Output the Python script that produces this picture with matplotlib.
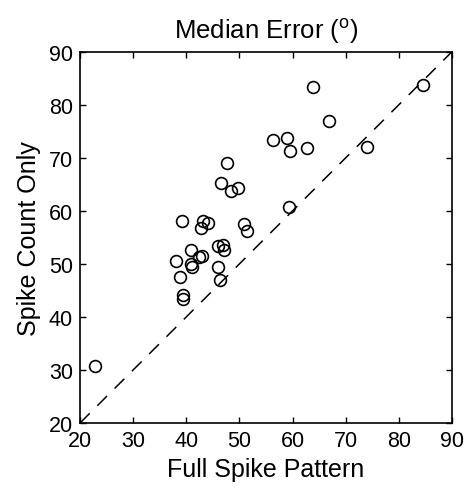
import matplotlib
matplotlib.use("Agg")
import matplotlib.pyplot as plt

plt.rcParams['font.family'] = ['Liberation Sans', 'DejaVu Sans']
plt.rcParams['mathtext.fontset'] = 'custom'
plt.rcParams['mathtext.rm'] = 'Liberation Sans'

# median error (deg): full spike pattern vs spike count only
full_pattern = [22.8, 39.3, 39.4, 38.8, 38.1, 40.8, 41.0, 40.8, 42.4, 42.9,
                39.1, 42.7, 43.2, 44.1, 46.0, 47.0, 47.1, 46.0, 46.3, 46.5,
                47.6, 48.4, 49.8, 50.9, 51.4, 56.3, 58.9, 59.6, 59.4, 62.7,
                63.8, 66.9, 74.0, 84.6]
count_only = [30.7, 44.2, 43.4, 47.6, 50.5, 50.0, 49.4, 52.7, 51.3, 51.5,
              58.0, 56.7, 58.0, 57.7, 53.3, 53.5, 52.7, 49.4, 47.0, 65.3,
              69.0, 63.7, 64.3, 57.5, 56.2, 73.4, 73.7, 71.3, 60.7, 71.8,
              83.3, 77.0, 72.1, 83.8]
ticks = [20, 30, 40, 50, 60, 70, 80, 90]

fig = plt.figure(figsize=(4.67, 4.89), dpi=100)
ax = fig.add_axes([0.1713, 0.1329, 0.7966, 0.7593])

# identity line
ax.plot([20, 90], [20, 90], color='black', lw=1.1, dashes=(9, 7))
ax.plot(full_pattern, count_only, 'o', mfc='none', mec='black', ms=8.5, mew=1.2)

ax.set_xlim(20, 90)
ax.set_ylim(20, 90)
ax.set_xticks(ticks)
ax.set_yticks(ticks)
ax.tick_params(direction='in', top=True, right=True, length=4, width=1,
               labelsize=15.5, pad=5)
for s in ax.spines.values():
    s.set_linewidth(1.2)

ax.set_xlabel('Full Spike Pattern', fontsize=18, labelpad=4)
ax.set_ylabel('Spike Count Only', fontsize=18, labelpad=6)
ax.set_title(r'Median Error ($^{\mathrm{o}}$)', fontsize=18.5, pad=10)

fig.savefig('out.png', dpi=100)
